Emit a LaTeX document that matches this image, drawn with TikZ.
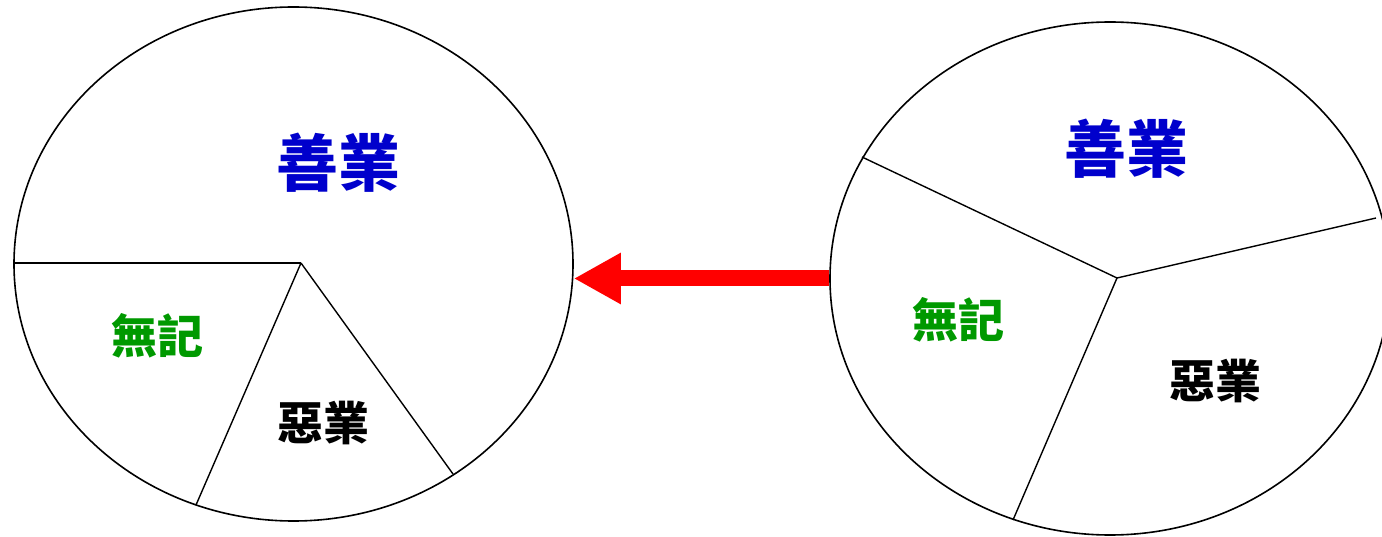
\documentclass[tikz,border=0pt]{standalone}
\usepackage{fontspec}
\usepackage{xcolor}
\usetikzlibrary{arrows.meta, positioning, shapes.geometric, calc}
\newfontfamily\cjk{Noto Sans CJK TC}
\definecolor{goodBlue}{RGB}{0,0,204}
\definecolor{neutGreen}{RGB}{0,153,0}
\tikzset{
    pieNode/.style={ellipse, draw=black, line width=1.6pt, inner sep=0pt, minimum width=559pt, minimum height=514pt},
    spoke/.style={line width=1.4pt},
    bigLabel/.style={inner sep=0pt, font=\cjk\bfseries\fontsize{62}{62}\selectfont},
    smallLabel/.style={inner sep=0pt, font=\cjk\bfseries\fontsize{46}{46}\selectfont}
}
\begin{document}
\begin{tikzpicture}[x=1pt, y=-1pt]
    \useasboundingbox (0,0) rectangle (1382,537);
    \node[pieNode] (LeftPie) at (293.5,264) {};
    \node[pieNode, minimum width=560pt, minimum height=513pt] (RightPie) at (1110,278.5) {};
    \coordinate (hubL) at (301,263);
    \coordinate (hubR) at (1117,278);
    \draw[spoke] (hubL)--(14,263);
    \draw[spoke] (hubL)--(196,505);
    \draw[spoke] (hubL)--(453,474);
    \draw[spoke] (hubR)--(862,157);
    \draw[spoke] (hubR)--(1376,218);
    \draw[spoke] (hubR)--(1013,520);
    \node[bigLabel, text=goodBlue] (goodL) at (338,163) {善業};
    \node[smallLabel, text=neutGreen] (neutL) at (157,336) {無記};
    \node[smallLabel] (badL) at (323,423) {惡業};
    \node[bigLabel, text=goodBlue] (goodR) at (1126,149) {善業};
    \node[smallLabel, text=neutGreen] (neutR) at (958,320) {無記};
    \node[smallLabel] (badR) at (1215,381) {惡業};
    \draw[-{Triangle[length=47pt, width=48pt]}, red, line width=16pt] (RightPie.west)--(LeftPie.east |- RightPie.west);
\end{tikzpicture}
\end{document}
